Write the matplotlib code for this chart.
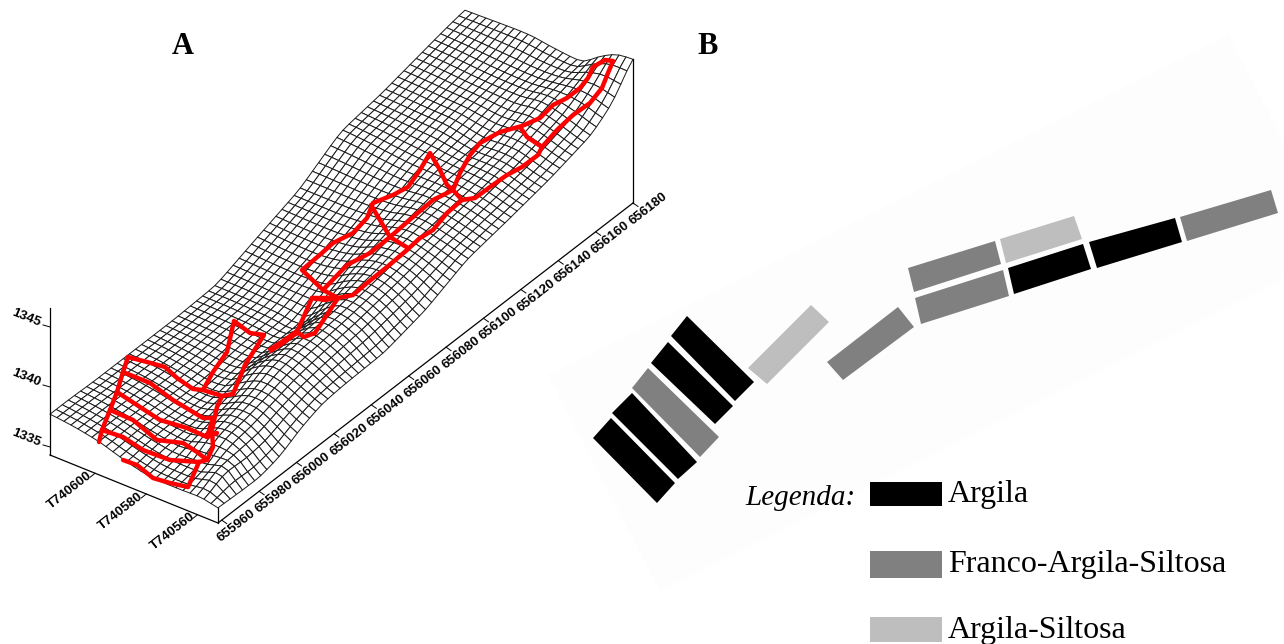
import matplotlib
matplotlib.use("Agg")
import matplotlib.pyplot as plt
import numpy as np
from matplotlib.collections import PolyCollection
from matplotlib.patches import Polygon

# terrain elevation (m above the box floor, 12 px = 1 m)
station_u = [0, .05, .1, .15, .2, .25, .3, .4, .5, .6, .7, .8, .9, .95, 1]
station_v = [0, .1, .2, .3, .4, .5, .6, .7, .85, 1]
heights = np.array([
    [15, 18, 18, 18, 18, 22, 27, 33, 38, 41],
    [12, 34, 22, 22, 23, 26, 30, 34, 38, 41],
    [12, 30, 38, 36, 26, 28, 30, 34, 38, 40],
    [18, 32, 42, 42, 32, 28, 30, 34, 38, 40],
    [30, 40, 48, 48, 38, 30, 30, 34, 38, 40],
    [38, 46, 54, 58, 50, 34, 32, 35, 38, 40],
    [40, 50, 58, 62, 50, 36, 36, 38, 39, 40],
    [41, 56, 64, 66, 52, 36, 40, 41, 42, 42],
    [52, 64, 72, 74, 70, 60, 56, 55, 56, 58],
    [71, 76, 80, 84, 82, 76, 74, 73, 73, 73],
    [79, 84, 88, 90, 92, 92, 92, 94, 97, 99],
    [88, 92, 98, 98, 96, 100, 104, 104, 105, 106],
    [100, 106, 112, 116, 112, 112, 112, 113, 115, 116],
    [115, 122, 122, 118, 116, 116, 117, 118, 120, 121],
    [146, 144, 134, 120, 122, 124, 127, 127, 126, 125],
]) / 12.0 + 1334.33

eastings = np.arange(655960, 656181, 20)
northings = [740600, 740580, 740560]
elevations = [1335, 1340, 1345]

# red plot outlines on the surface
outlines = [
    [(99, 442), (102, 430), (110, 410), (117, 392), (123, 372), (128, 357)],
    [(128, 357), (147, 362), (165, 367), (177, 378), (193, 389), (203, 390), (222, 396), (233, 394)],
    [(233, 394), (245, 365), (264, 335), (250, 333), (234, 321), (227, 352), (213, 372), (203, 390)],
    [(222, 396), (217, 407), (212, 430), (213, 447), (207, 460), (199, 462), (188, 487)],
    [(123, 372), (150, 383), (173, 400), (203, 418), (213, 418), (207, 437)],
    [(117, 392), (140, 407), (160, 420), (187, 428), (207, 437), (217, 433)],
    [(110, 410), (133, 420), (157, 440), (183, 443), (197, 452), (207, 460)],
    [(102, 430), (123, 437), (143, 450), (170, 460), (199, 462)],
    [(123, 460), (137, 465), (153, 478), (170, 483), (188, 487)],
    [(297, 332), (304, 337), (315, 333), (338, 298), (312, 298), (297, 332)],
    [(312, 298), (325, 300), (338, 298), (353, 295), (367, 283), (387, 267), (407, 250), (420, 238),
     (433, 230), (447, 213), (462, 200), (475, 198), (490, 187), (507, 175), (522, 167), (538, 155),
     (542, 147), (557, 130), (573, 115), (590, 103), (602, 88), (608, 73), (613, 61), (605, 60),
     (593, 67), (588, 78), (580, 88), (567, 98), (553, 105), (540, 118), (522, 126), (500, 132),
     (480, 143), (470, 155), (460, 173), (453, 190), (447, 185), (440, 170), (430, 153), (420, 170),
     (408, 187), (393, 195), (373, 203), (367, 218), (353, 233), (333, 243), (322, 253), (302, 270),
     (323, 290), (338, 298)],
    [(323, 290), (347, 265), (370, 253), (390, 237), (413, 217), (433, 200), (453, 190), (462, 200)],
    [(371, 205), (390, 237), (408, 248)],
    [(520, 127), (527, 137), (542, 147)],
]
thick_outline = [(269, 351), (283, 342), (297, 332)]

# soil plots of panel B: four corners and texture class
plots = [
    ("argila", [(593, 438), (611, 418), (675, 483), (657, 503)]),
    ("argila", [(612, 413), (632, 393), (697, 462), (678, 479)]),
    ("franco", [(632, 388), (648, 368), (719, 437), (700, 457)]),
    ("argila", [(651, 363), (668, 342), (733, 406), (715, 424)]),
    ("argila", [(671, 336), (687, 316), (754, 382), (735, 401)]),
    ("siltosa", [(748, 368), (811, 305), (829, 322), (767, 384)]),
    ("franco", [(827, 362), (898, 307), (914, 327), (843, 380)]),
    ("franco", [(908, 268), (995, 241), (1001, 264), (914, 292)]),
    ("franco", [(915, 298), (1003, 270), (1009, 296), (921, 324)]),
    ("siltosa", [(1000, 239), (1074, 216), (1082, 239), (1006, 263)]),
    ("argila", [(1008, 268), (1083, 244), (1091, 269), (1014, 294)]),
    ("argila", [(1089, 242), (1175, 218), (1182, 242), (1097, 268)]),
    ("franco", [(1180, 217), (1271, 190), (1278, 213), (1187, 241)]),
]
soil_colors = {"argila": "#000000", "franco": "#808080", "siltosa": "#bebebe"}
legend_labels = ["Argila", "Franco-Argila-Siltosa", "Argila-Siltosa"]
legend_keys = ["argila", "franco", "siltosa"]

# box corners on the page
front = np.array([218.0, 523.0])
vec_u = np.array([415.0, -320.0])
vec_v = np.array([-168.0, -68.0])
z_floor = 1334.33
z_scale = 12.0


def project(u, v, z):
    x = front[0] + u * vec_u[0] + v * vec_v[0]
    y = front[1] + u * vec_u[1] + v * vec_v[1] - (z - z_floor) * z_scale
    return x, y


def mesh_surface(n_u=68, n_v=24):
    u = np.linspace(0, 1, n_u + 1)
    v = np.linspace(0, 1, n_v + 1)
    along = np.array([np.interp(v, station_v, row) for row in heights])
    z = np.array([np.interp(u, station_u, col) for col in along.T]).T
    # soften the kinks between the stations
    for _ in range(2):
        pad = np.pad(z, 1, mode="edge")
        z = (pad[:-2, 1:-1] + pad[2:, 1:-1] + pad[1:-1, :-2] + pad[1:-1, 2:] + 4 * z) / 8
    return u, v, z


def draw_surface(ax):
    u, v, z = mesh_surface()
    uu, vv = np.meshgrid(u, v, indexing="ij")
    x, y = project(uu, vv, z)
    quads = []
    for i in range(len(u) - 2, -1, -1):
        for j in range(len(v) - 2, -1, -1):
            quads.append([(x[i, j], y[i, j]), (x[i + 1, j], y[i + 1, j]),
                          (x[i + 1, j + 1], y[i + 1, j + 1]), (x[i, j + 1], y[i, j + 1])])
    ax.add_collection(PolyCollection(quads, facecolors="white", edgecolors="#1a1a1a", linewidths=0.7, zorder=2))
    return x, y


def draw_box(ax, x, y):
    left = front + vec_v
    right = front + vec_u
    ax.plot([left[0], front[0], right[0]], [left[1], front[1], right[1]], color="k", lw=0.9, zorder=3)
    ax.plot([left[0], left[0]], [308, left[1]], color="k", lw=0.9, zorder=3)
    ax.plot([front[0], front[0]], [y[0, 0], front[1]], color="k", lw=0.9, zorder=3)
    ax.plot([right[0], right[0]], [y[-1, 0], right[1]], color="k", lw=0.9, zorder=3)

    for e in eastings:
        u = (e - 655958) / 222.0
        px, py = project(u, 0, z_floor)
        ax.plot([px, px + 5], [py, py + 3.5], color="k", lw=0.7)
        ax.text(px + 15, py + 6, str(e), rotation=38, rotation_mode="anchor", ha="center", va="center",
                fontsize=9.6, fontweight="bold", family="Liberation Sans")
    for n in northings:
        v = (n - 740552) / 65.6
        px, py = project(0, v, z_floor)
        ax.plot([px, px - 5], [py, py + 4], color="k", lw=0.7)
        ax.text(px - 25, py + 17, "T%d" % n, rotation=38, rotation_mode="anchor", ha="center", va="center",
                fontsize=9.6, fontweight="bold", family="Liberation Sans")
    for z in elevations:
        py = left[1] - (z - z_floor) * z_scale
        ax.plot([left[0], left[0] - 7], [py, py - 2], color="k", lw=0.7)
        ax.text(left[0] - 24, py - 9, str(z), rotation=-22, rotation_mode="anchor", ha="center", va="center",
                fontsize=9.6, fontweight="bold", family="Liberation Sans")


def main():
    fig = plt.figure(figsize=(12.84, 6.44), dpi=100)
    ax = fig.add_axes([0, 0, 1, 1])
    ax.set_xlim(0, 1284)
    ax.set_ylim(644, 0)
    ax.axis("off")

    # faint sheet behind panel B
    ax.add_patch(Polygon([(548, 375), (1228, 35), (1340, 250), (660, 590)], fc="#fdfdfd", ec="none", zorder=0))

    x, y = draw_surface(ax)
    draw_box(ax, x, y)

    for line in outlines:
        px, py = zip(*line)
        ax.plot(px, py, color="#ff0000", lw=3.2, solid_joinstyle="round", solid_capstyle="round", zorder=4)
    px, py = zip(*thick_outline)
    ax.plot(px, py, color="#ff0000", lw=4.2, solid_capstyle="butt", zorder=4)

    for soil, corners in plots:
        ax.add_patch(Polygon(corners, fc=soil_colors[soil], ec="none", zorder=2))

    ax.text(172, 54, "A", fontsize=22, fontweight="bold", family="Liberation Serif")
    ax.text(697, 54, "B", fontsize=22, fontweight="bold", family="Liberation Serif")

    ax.text(745, 505, "Legenda:", fontsize=21, style="italic", family="Liberation Serif")
    key_tops = [482, 551, 617]
    key_heights = [24, 27, 25]
    baselines = [502, 572, 638]
    for key, label, top, hgt, base in zip(legend_keys, legend_labels, key_tops, key_heights, baselines):
        ax.add_patch(Polygon([(870, top), (942, top), (942, top + hgt), (870, top + hgt)],
                             fc=soil_colors[key], ec="none", zorder=2))
        ax.text(948, base, label, fontsize=23, family="Liberation Serif")

    fig.savefig("out.png", dpi=100)


if __name__ == "__main__":
    main()
